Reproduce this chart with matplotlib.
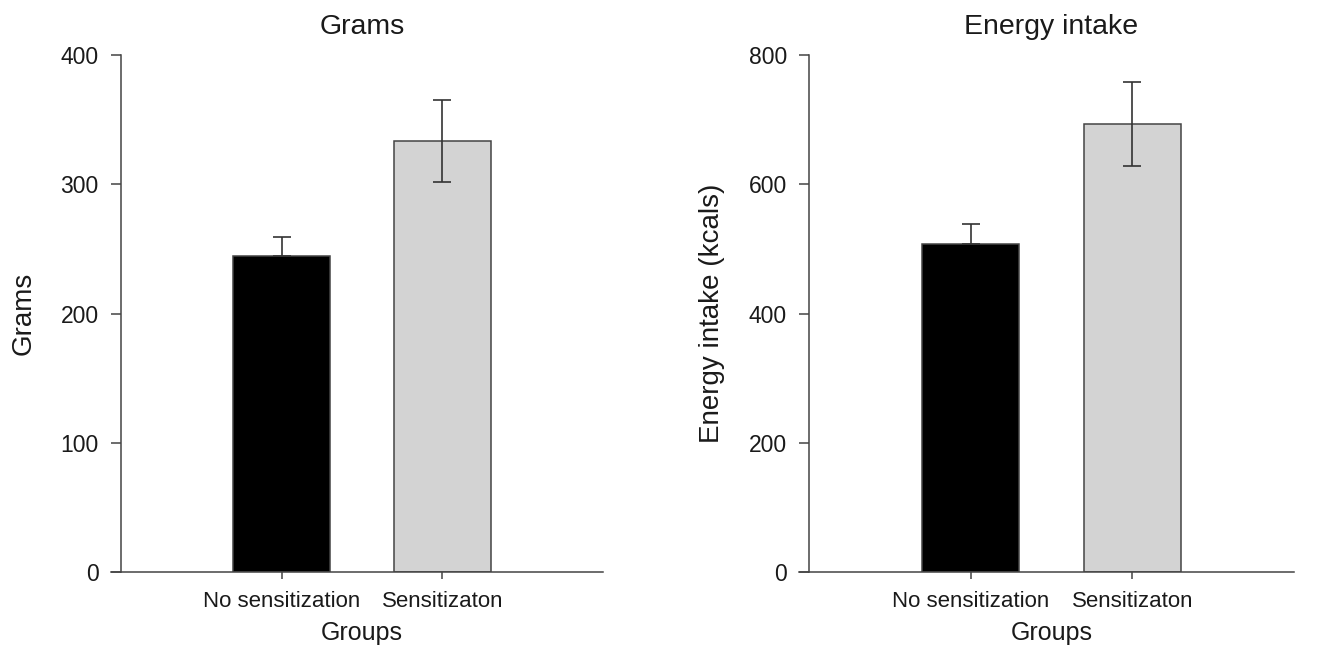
import matplotlib
matplotlib.use("Agg")
import matplotlib.pyplot as plt

plt.rcParams['font.family'] = ['Liberation Sans', 'DejaVu Sans']

# data
groups = ['No sensitization', 'Sensitizaton']
grams_mean = [244.5, 333.5]
grams_err = [14.7, 31.5]
energy_mean = [508, 693]
energy_err = [31, 65]

bar_colors = ['black', '#d3d3d3']
line_col = '#444444'
text_col = '#1a1a1a'


def draw_panel(ax, means, errs, title, ylabel, ymax, ystep):
    x = [1, 2]
    ax.bar(x, means, width=0.6, color=bar_colors, edgecolor=line_col,
           linewidth=1.1, zorder=2)
    # the lower half of the whisker is hidden inside the black bar
    lower = [0 if c == 'black' else e for c, e in zip(bar_colors, errs)]
    ax.errorbar(x, means, yerr=[lower, errs], fmt='none', ecolor='#333333',
                elinewidth=1.2, capsize=6.5, capthick=1.2, zorder=3)
    ax.set_xlim(0, 3)
    ax.set_ylim(0, ymax)
    ax.set_yticks(range(0, ymax + 1, ystep))
    ax.set_xticks(x)
    ax.set_xticklabels(groups)
    for s in ['top', 'right']:
        ax.spines[s].set_visible(False)
    for s in ['left', 'bottom']:
        ax.spines[s].set_color(line_col)
        ax.spines[s].set_linewidth(1.1)
    # x axis line runs a little past the y axis, like the original
    ax.spines['bottom'].set_bounds(-0.062, 3)
    ax.tick_params(axis='y', direction='out', length=7, width=1.1,
                   color=line_col, labelsize=16.5, labelcolor=text_col, pad=9)
    ax.tick_params(axis='x', direction='out', length=5, width=1.1,
                   color=line_col, labelsize=16, labelcolor=text_col, pad=9)
    ax.set_title(title, fontsize=20.5, color=text_col, pad=15)
    ax.set_ylabel(ylabel, fontsize=20, color=text_col, labelpad=17)
    ax.set_xlabel('Groups', fontsize=18, color=text_col, labelpad=6)


fig = plt.figure(figsize=(13.37, 6.59), dpi=100)
ax1 = fig.add_axes([0.0905, 0.132, 0.3605, 0.7845])
ax2 = fig.add_axes([0.6051, 0.132, 0.3628, 0.7845])

draw_panel(ax1, grams_mean, grams_err, 'Grams', 'Grams', 400, 100)
draw_panel(ax2, energy_mean, energy_err, 'Energy intake',
           'Energy intake (kcals)', 800, 200)

fig.savefig('out.png', dpi=100)
